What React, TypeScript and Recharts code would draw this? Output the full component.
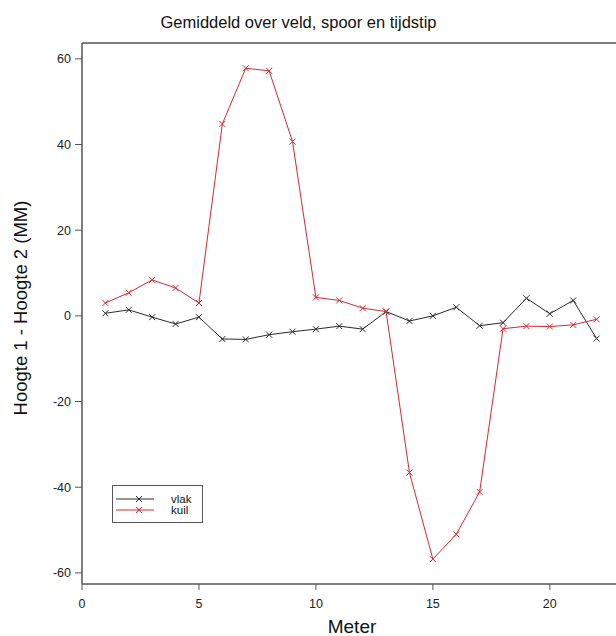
import React from 'react';
import {
  LineChart,
  Line,
  XAxis,
  YAxis,
  ReferenceLine,
  Legend,
} from 'recharts';

const meters = [1, 2, 3, 4, 5, 6, 7, 8, 9, 10, 11, 12, 13, 14, 15, 16, 17, 18, 19, 20, 21, 22];
const vlak = [0.6, 1.4, -0.3, -1.9, -0.3, -5.4, -5.5, -4.4, -3.7, -3.1, -2.4, -3.1, 1.0, -1.2, 0.0, 2.0, -2.3, -1.6, 4.1, 0.5, 3.6, -5.3];
const kuil = [3.0, 5.4, 8.4, 6.5, 3.0, 44.8, 57.8, 57.2, 40.7, 4.3, 3.6, 1.8, 1.0, -36.6, -56.8, -51.0, -41.1, -3.0, -2.4, -2.5, -2.1, -0.8];
const seriesNames = ['vlak', 'kuil'];
const xTicks = [0, 5, 10, 15, 20];
const yTicks = [-60, -40, -20, 0, 20, 40, 60];

const data = meters.map((m, i) => ({ meter: m, vlak: vlak[i], kuil: kuil[i] }));

const FONT = '"Liberation Sans", Arial, sans-serif';
const AXIS = '#555';
const BLACK = '#2a2a2a';
const RED = '#e3232c';
const Y_MIN = -62.6;
const Y_MAX = 63.7;

const crossDot = (color: string) => (props: any) => {
  const { cx, cy, index } = props;
  if (cx == null || cy == null) return <g key={index} />;
  const s = 3;
  return (
    <path
      key={index}
      d={`M${cx - s},${cy - s}L${cx + s},${cy + s}M${cx - s},${cy + s}L${cx + s},${cy - s}`}
      stroke={color}
      strokeWidth={1}
      fill='none'
    />
  );
};

const LegendBox = (props: any) => {
  // keep the series order (vlak first), the legend sorts by name otherwise
  const items = [...(props.payload || [])].sort(
    (a: any, b: any) => seriesNames.indexOf(a.value) - seriesNames.indexOf(b.value)
  );
  return (
    <svg width={91} height={40} style={{ display: 'block' }}>
      <rect x={0.5} y={0.5} width={90} height={37} fill='#fff' stroke={AXIS} strokeWidth={1} />
      {items.map((it: any, i: number) => {
        const y = 14 + i * 11;
        return (
          <g key={it.value}>
            <line x1={4} x2={42} y1={y} y2={y} stroke={it.color} strokeWidth={1} />
            <path
              d={`M24,${y - 3}L30,${y + 3}M24,${y + 3}L30,${y - 3}`}
              stroke={it.color}
              strokeWidth={1}
            />
            <text x={59} y={y + 4} fontSize={11.5} fontFamily={FONT} fill='#111'>
              {it.value}
            </text>
          </g>
        );
      })}
    </svg>
  );
};

export default function App() {
  return (
    <div
      style={{
        position: 'fixed',
        left: 0,
        top: 0,
        width: 616,
        height: 636,
        overflow: 'hidden',
        background: '#fff',
      }}
    >
      <LineChart
        width={640}
        height={636}
        data={data}
        margin={{ top: 43, right: 20, bottom: 0, left: 0 }}
      >
        <XAxis
          dataKey='meter'
          type='number'
          domain={[0, 23]}
          ticks={xTicks}
          height={52}
          tickSize={6}
          tickMargin={9}
          axisLine={{ stroke: AXIS, strokeWidth: 1.5 }}
          tickLine={{ stroke: AXIS }}
          tick={{ fill: '#222', fontSize: 12.5, fontFamily: FONT }}
        />
        <YAxis
          type='number'
          domain={[Y_MIN, Y_MAX]}
          ticks={yTicks}
          width={82}
          tickSize={7}
          tickMargin={4}
          axisLine={{ stroke: AXIS, strokeWidth: 1.5 }}
          tickLine={{ stroke: AXIS }}
          tick={{ fill: '#222', fontSize: 12.5, fontFamily: FONT }}
        />
        <ReferenceLine y={Y_MAX} stroke={AXIS} strokeWidth={1.5} />
        <ReferenceLine x={23} stroke={AXIS} strokeWidth={1.5} />
        <Legend
          layout='vertical'
          align='center'
          verticalAlign='middle'
          content={<LegendBox />}
          wrapperStyle={{ position: 'absolute', left: 112, top: 485, width: 91, height: 40 }}
        />
        <Line
          dataKey='vlak'
          name='vlak'
          stroke={BLACK}
          strokeWidth={1}
          dot={crossDot(BLACK)}
          activeDot={false}
          isAnimationActive={false}
        />
        <Line
          dataKey='kuil'
          name='kuil'
          stroke={RED}
          strokeWidth={1}
          dot={crossDot(RED)}
          activeDot={false}
          isAnimationActive={false}
        />
      </LineChart>
      <svg
        width={616}
        height={636}
        style={{ position: 'absolute', left: 0, top: 0, pointerEvents: 'none' }}
      >
        <text x={298.5} y={28} textAnchor='middle' fontSize={16.5} fontFamily={FONT} fill='#111'>
          Gemiddeld over veld, spoor en tijdstip
        </text>
        <text x={352} y={633} textAnchor='middle' fontSize={19} fontFamily={FONT} fill='#111'>
          Meter
        </text>
        <text
          x={0}
          y={0}
          transform='translate(27,308) rotate(-90)'
          textAnchor='middle'
          fontSize={18.5}
          fontFamily={FONT}
          fill='#111'
        >
          Hoogte 1 - Hoogte 2 (MM)
        </text>
      </svg>
    </div>
  );
}
